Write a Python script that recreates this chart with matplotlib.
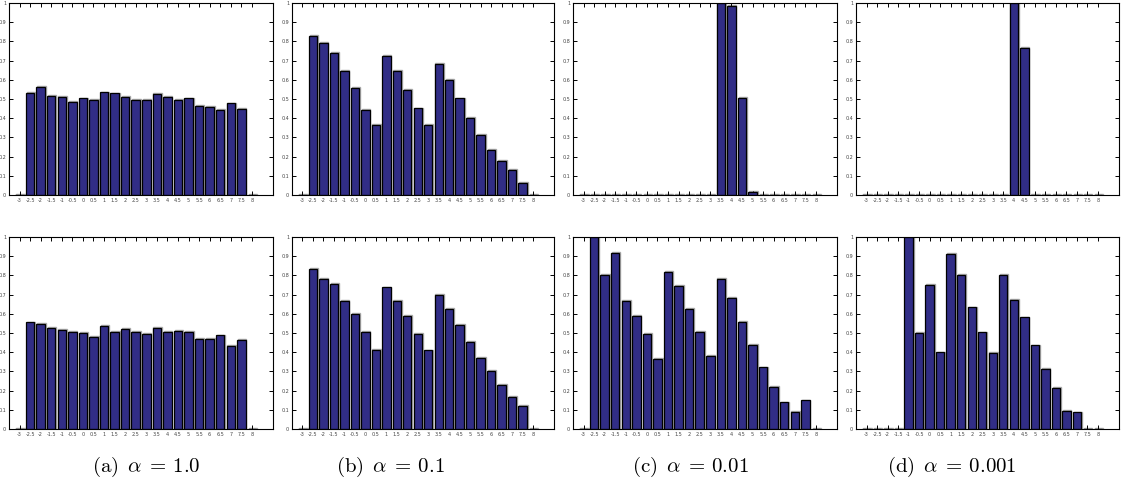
import numpy as np
import matplotlib
matplotlib.use("Agg")
import matplotlib.pyplot as plt

plt.rcParams['mathtext.fontset'] = 'cm'

# bin centres (shared by all panels)
positions = [-3, -2.5, -2, -1.5, -1, -0.5, 0, 0.5, 1, 1.5, 2, 2.5, 3, 3.5,
             4, 4.5, 5, 5.5, 6, 6.5, 7, 7.5, 8]

top_a = [0, 0.532, 0.563, 0.516, 0.510, 0.485, 0.503, 0.497, 0.534, 0.529, 0.510, 0.494,
         0.494, 0.527, 0.510, 0.497, 0.503, 0.464, 0.458, 0.442, 0.477, 0.447, 0]
top_b = [0, 0.830, 0.792, 0.740, 0.645, 0.558, 0.445, 0.367, 0.726, 0.645, 0.548, 0.451,
         0.366, 0.681, 0.600, 0.503, 0.402, 0.314, 0.236, 0.179, 0.132, 0.062, 0]
top_c = [0, 0, 0, 0, 0, 0, 0, 0, 0, 0, 0, 0,
         0, 1.0, 0.985, 0.504, 0.017, 0, 0, 0, 0, 0, 0]
top_d = [0, 0, 0, 0, 0, 0, 0, 0, 0, 0, 0, 0,
         0, 0, 1.0, 0.766, 0, 0, 0, 0, 0, 0, 0]

bottom_a = [0, 0.555, 0.549, 0.527, 0.516, 0.506, 0.501, 0.478, 0.539, 0.506, 0.520, 0.506,
            0.494, 0.527, 0.506, 0.511, 0.506, 0.471, 0.471, 0.487, 0.433, 0.466, 0]
bottom_b = [0, 0.834, 0.783, 0.757, 0.669, 0.600, 0.506, 0.411, 0.737, 0.666, 0.588, 0.497,
            0.409, 0.698, 0.624, 0.542, 0.454, 0.371, 0.302, 0.230, 0.166, 0.120, 0]
bottom_c = [0, 1.0, 0.801, 0.919, 0.666, 0.589, 0.497, 0.366, 0.818, 0.745, 0.624, 0.504,
            0.381, 0.783, 0.681, 0.558, 0.437, 0.321, 0.218, 0.139, 0.088, 0.149, 0]
bottom_d = [0, 0, 0, 0, 1.0, 0.499, 0.750, 0.399, 0.912, 0.801, 0.633, 0.503,
            0.397, 0.801, 0.671, 0.581, 0.435, 0.312, 0.215, 0.094, 0.087, 0, 0]

captions = [r'$\mathrm{(a)}\ \,\alpha\;=\,1.0$', r'$\mathrm{(b)}\ \,\alpha\;=\,0.1$',
            r'$\mathrm{(c)}\ \,\alpha\;=\,0.01$', r'$\mathrm{(d)}\ \,\alpha\;=\,0.001$']

rows = [[top_a, top_b, top_c, top_d], [bottom_a, bottom_b, bottom_c, bottom_d]]

W, H = 1125, 493
fig = plt.figure(figsize=(W / 100, H / 100), dpi=100)

# axes boxes in pixels
col_left = [9, 292, 573, 856]
col_right = [273, 554, 837, 1119]
row_top = [3, 237]
row_bot = [195, 429]
cap_x = [146, 390, 690, 952]

bar_color = '#312d86'
xticks = positions
yticks = [0, 0.1, 0.2, 0.3, 0.4, 0.5, 0.6, 0.7, 0.8, 0.9, 1]

for r in range(2):
    for c in range(4):
        l, rr = col_left[c], col_right[c]
        t, b = row_top[r], row_bot[r]
        ax = fig.add_axes([l / W, 1 - b / H, (rr - l) / W, (b - t) / H])
        vals = rows[r][c]
        # light grey shadow behind each bar
        ax.bar(np.array(positions) + 0.04, np.array(vals) + 0.004, width=0.4,
               color='none', edgecolor='#a8a8a8', linewidth=1.0, zorder=1)
        ax.bar(positions, vals, width=0.4, color=bar_color,
               edgecolor='black', linewidth=0.9, zorder=2)
        ax.set_xlim(-3.5, 9)
        ax.set_ylim(0, 1)
        ax.set_xticks(xticks)
        ax.set_xticklabels(['%g' % v for v in xticks])
        ax.set_yticks(yticks)
        ax.set_yticklabels(['%g' % v for v in yticks])
        ax.tick_params(direction='in', length=3, width=0.7, labelsize=3.5,
                       top=True, right=True, pad=2, labelcolor='#444444')
        for sp in ax.spines.values():
            sp.set_linewidth(0.8)

for c in range(4):
    fig.text(cap_x[c] / W, 1 - 467 / H, captions[c], ha='center', va='center',
             fontsize=15)

fig.savefig('out.png', dpi=100)
